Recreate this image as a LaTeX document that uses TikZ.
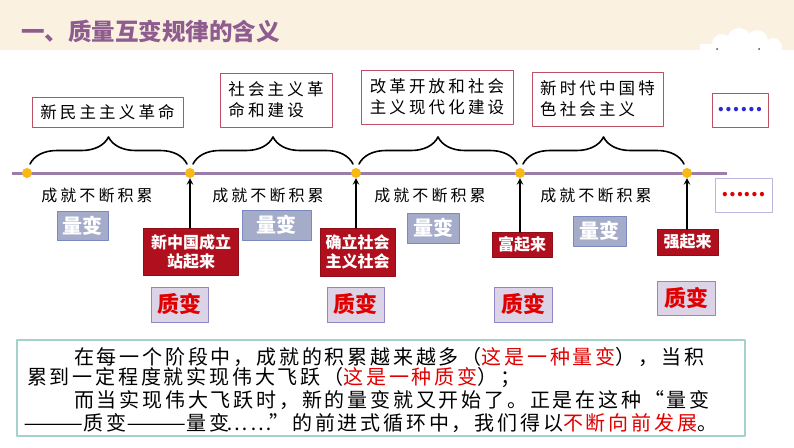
\documentclass[tikz,border=0pt]{standalone}
\usepackage{fontspec}
\usetikzlibrary{decorations.pathreplacing,positioning}
\newfontfamily\cjk{Noto Sans CJK SC}
\newfontfamily\cjkp{Noto Sans CJK SC}[LetterSpace=19]
\newfontfamily\cjkt{Noto Sans CJK SC}[LetterSpace=14]
\definecolor{bandc}{HTML}{FBF1E1}
\definecolor{titlec}{HTML}{8E5C8F}
\definecolor{linec}{HTML}{9B7DAA}
\definecolor{dotc}{HTML}{F9B914}
\definecolor{perc}{HTML}{BE5064}
\definecolor{lbfill}{HTML}{A5ACCA}
\definecolor{lbdraw}{HTML}{7C88C0}
\definecolor{rbfill}{HTML}{B0101E}
\definecolor{zbfill}{HTML}{DCD3E7}
\definecolor{zbdraw}{HTML}{8E88C8}
\definecolor{hl}{HTML}{E00000}
\definecolor{dotblue}{HTML}{2A2AD0}
\definecolor{boxteal}{HTML}{A3D3CA}
\newcommand\wdash{\scalebox{1.8}[1]{——}}
\newcommand\wdots{\makebox[40pt][c]{……}}
\tikzset{
 period/.style={draw=perc, line width=0.8pt, fill=white, align=left, inner sep=0pt, font=\cjkp\fontsize{16.5}{21}\selectfont},
 acc/.style={inner sep=0pt, font=\cjkp\fontsize{16}{19}\selectfont},
 lb/.style={draw=lbdraw, fill=lbfill, line width=0.8pt, text=white, inner sep=0pt, font=\cjk\bfseries\fontsize{20}{20}\selectfont},
 rb/.style={draw=rbfill!80!black, fill=rbfill, text=white, align=center, inner sep=0pt, font=\cjk\bfseries\fontsize{16}{19}\selectfont},
 zb/.style={draw=zbdraw, fill=zbfill, line width=0.8pt, text=hl, inner sep=0pt, font=\cjk\bfseries\fontsize{22}{22}\selectfont},
 dot/.style={circle, fill=dotc, inner sep=0pt, minimum size=10pt},
 brc/.style={decorate, decoration={brace, amplitude=27pt}, line width=1.6pt},
 para/.style={anchor=west, inner sep=0pt, font=\cjkt\fontsize{20}{22}\selectfont}
}
\begin{document}
\begin{tikzpicture}[x=1pt, y=-1pt, >=stealth, line join=round, line cap=round]
 \useasboundingbox (0,0) rectangle (794,447);
 % heading band
 \fill[bandc] (0,0) rectangle (794,50);
 \fill[white] (722,44) circle(10pt) (739,40) circle(12pt) (757,41) circle(11pt) (773,46) circle(8pt) (700,44) rectangle (782,50);
 \fill[black!70] (717,49) circle(1pt) (759,49) circle(1pt);
 \node[anchor=west, inner sep=0pt, text=titlec, font=\cjk\bfseries\fontsize{23.5}{24}\selectfont] (title) at (21,31) {一、质量互变规律的含义};
 % timeline
 \coordinate (ls) at (12,173);
 \coordinate (le) at (727,173);
 \draw[linec, line width=3pt, line cap=butt] (ls) -- (le);
 \node[dot] (d1) at (27,173) {};
 \node[dot] (d2) at (190,173) {};
 \node[dot] (d3) at (356,173) {};
 \node[dot] (d4) at (520,173) {};
 \node[dot] (d5) at (687,173) {};
 \draw[brc] ([shift={(3,-9)}]d1.center) -- ([shift={(-3,-9)}]d2.center);
 \draw[brc] ([shift={(3,-9)}]d2.center) -- ([shift={(-3,-9)}]d3.center);
 \draw[brc] ([shift={(3,-9)}]d3.center) -- ([shift={(-3,-9)}]d4.center);
 \draw[brc] ([shift={(3,-9)}]d4.center) -- ([shift={(-3,-9)}]d5.center);
 % periods
 \node[period, minimum width=151, minimum height=30] (p1) at (107.5,112) {新民主主义革命};
 \node[period, minimum width=112, minimum height=54] (p2) at (276,100) {社会主义革\\命和建设};
 \node[period, minimum width=152, minimum height=54] (p3) at (437,97) {改革开放和社会\\主义现代化建设};
 \node[period, minimum width=131, minimum height=54] (p4) at (597.5,99) {新时代中国特\\色社会主义};
 \node[period, minimum width=56, minimum height=34, text=dotblue, font=\cjk\bfseries\fontsize{20}{20}\selectfont] (p5) at (740,110) {……};
 \node[period, draw=zbdraw!60, minimum width=57, minimum height=34, text=hl, font=\cjk\bfseries\fontsize{20}{20}\selectfont] (p6) at (743.5,195) {……};
 % accumulation
 \node[acc] (a1) at (97,195) {成就不断积累};
 \node[acc] (a2) at (268,195) {成就不断积累};
 \node[acc] (a3) at (430,195) {成就不断积累};
 \node[acc] (a4) at (596,195) {成就不断积累};
 \node[lb, minimum width=51, minimum height=29] (q1) at (82.5,225.5) {量变};
 \node[lb, minimum width=69, minimum height=30] (q2) at (276.5,225) {量变};
 \node[lb, minimum width=52, minimum height=30] (q3) at (433,228) {量变};
 \node[lb, minimum width=53, minimum height=30] (q4) at (599.5,231) {量变};
 % leaps
 \node[rb, minimum width=95, minimum height=47] (r1) at (191,251.5) {新中国成立\\站起来};
 \node[rb, minimum width=75, minimum height=48] (r2) at (357.5,252) {确立社会\\主义社会};
 \node[rb, minimum width=60, minimum height=25] (r3) at (522,244.5) {富起来};
 \node[rb, minimum width=61, minimum height=26] (r4) at (687.5,242) {强起来};
 \draw[->, line width=1.8pt] (r1.north -| d2) -- (d2.south);
 \draw[->, line width=1.8pt] (r2.north -| d3) -- (d3.south);
 \draw[->, line width=1.8pt] (r3.north -| d4) -- (d4.south);
 \draw[->, line width=1.8pt] (r4.north -| d5) -- (d5.south);
 \node[zb, minimum width=57, minimum height=35] (z1) at (179.5,304.5) {质变};
 \node[zb, minimum width=57, minimum height=35] (z2) at (355.5,304.5) {质变};
 \node[zb, minimum width=58, minimum height=35] (z3) at (523,304.5) {质变};
 \node[zb, minimum width=58, minimum height=34] (z4) at (686,298) {质变};
 % summary
 \node[draw=boxteal, line width=1.2pt, minimum width=728, minimum height=96] (bx) at (381,388) {};
 \node[para] (t1) at (74,357) {在每一个阶段中，成就的积累越来越多（\textcolor{hl}{这是一种量变}），当积};
 \node[para] (t2) at (27,378) {累到一定程度就实现伟大飞跃（\textcolor{hl}{这是一种质变}）；};
 \node[para] (t3) at (74,400) {而当实现伟大飞跃时，新的量变就又开始了。正是在这种“量变};
 \node[para] (t4) at (23,423) {\wdash 质变\wdash 量变\wdots”的前进式循环中，我们得以\textcolor{hl}{不断向前发展}。};
\end{tikzpicture}
\end{document}
